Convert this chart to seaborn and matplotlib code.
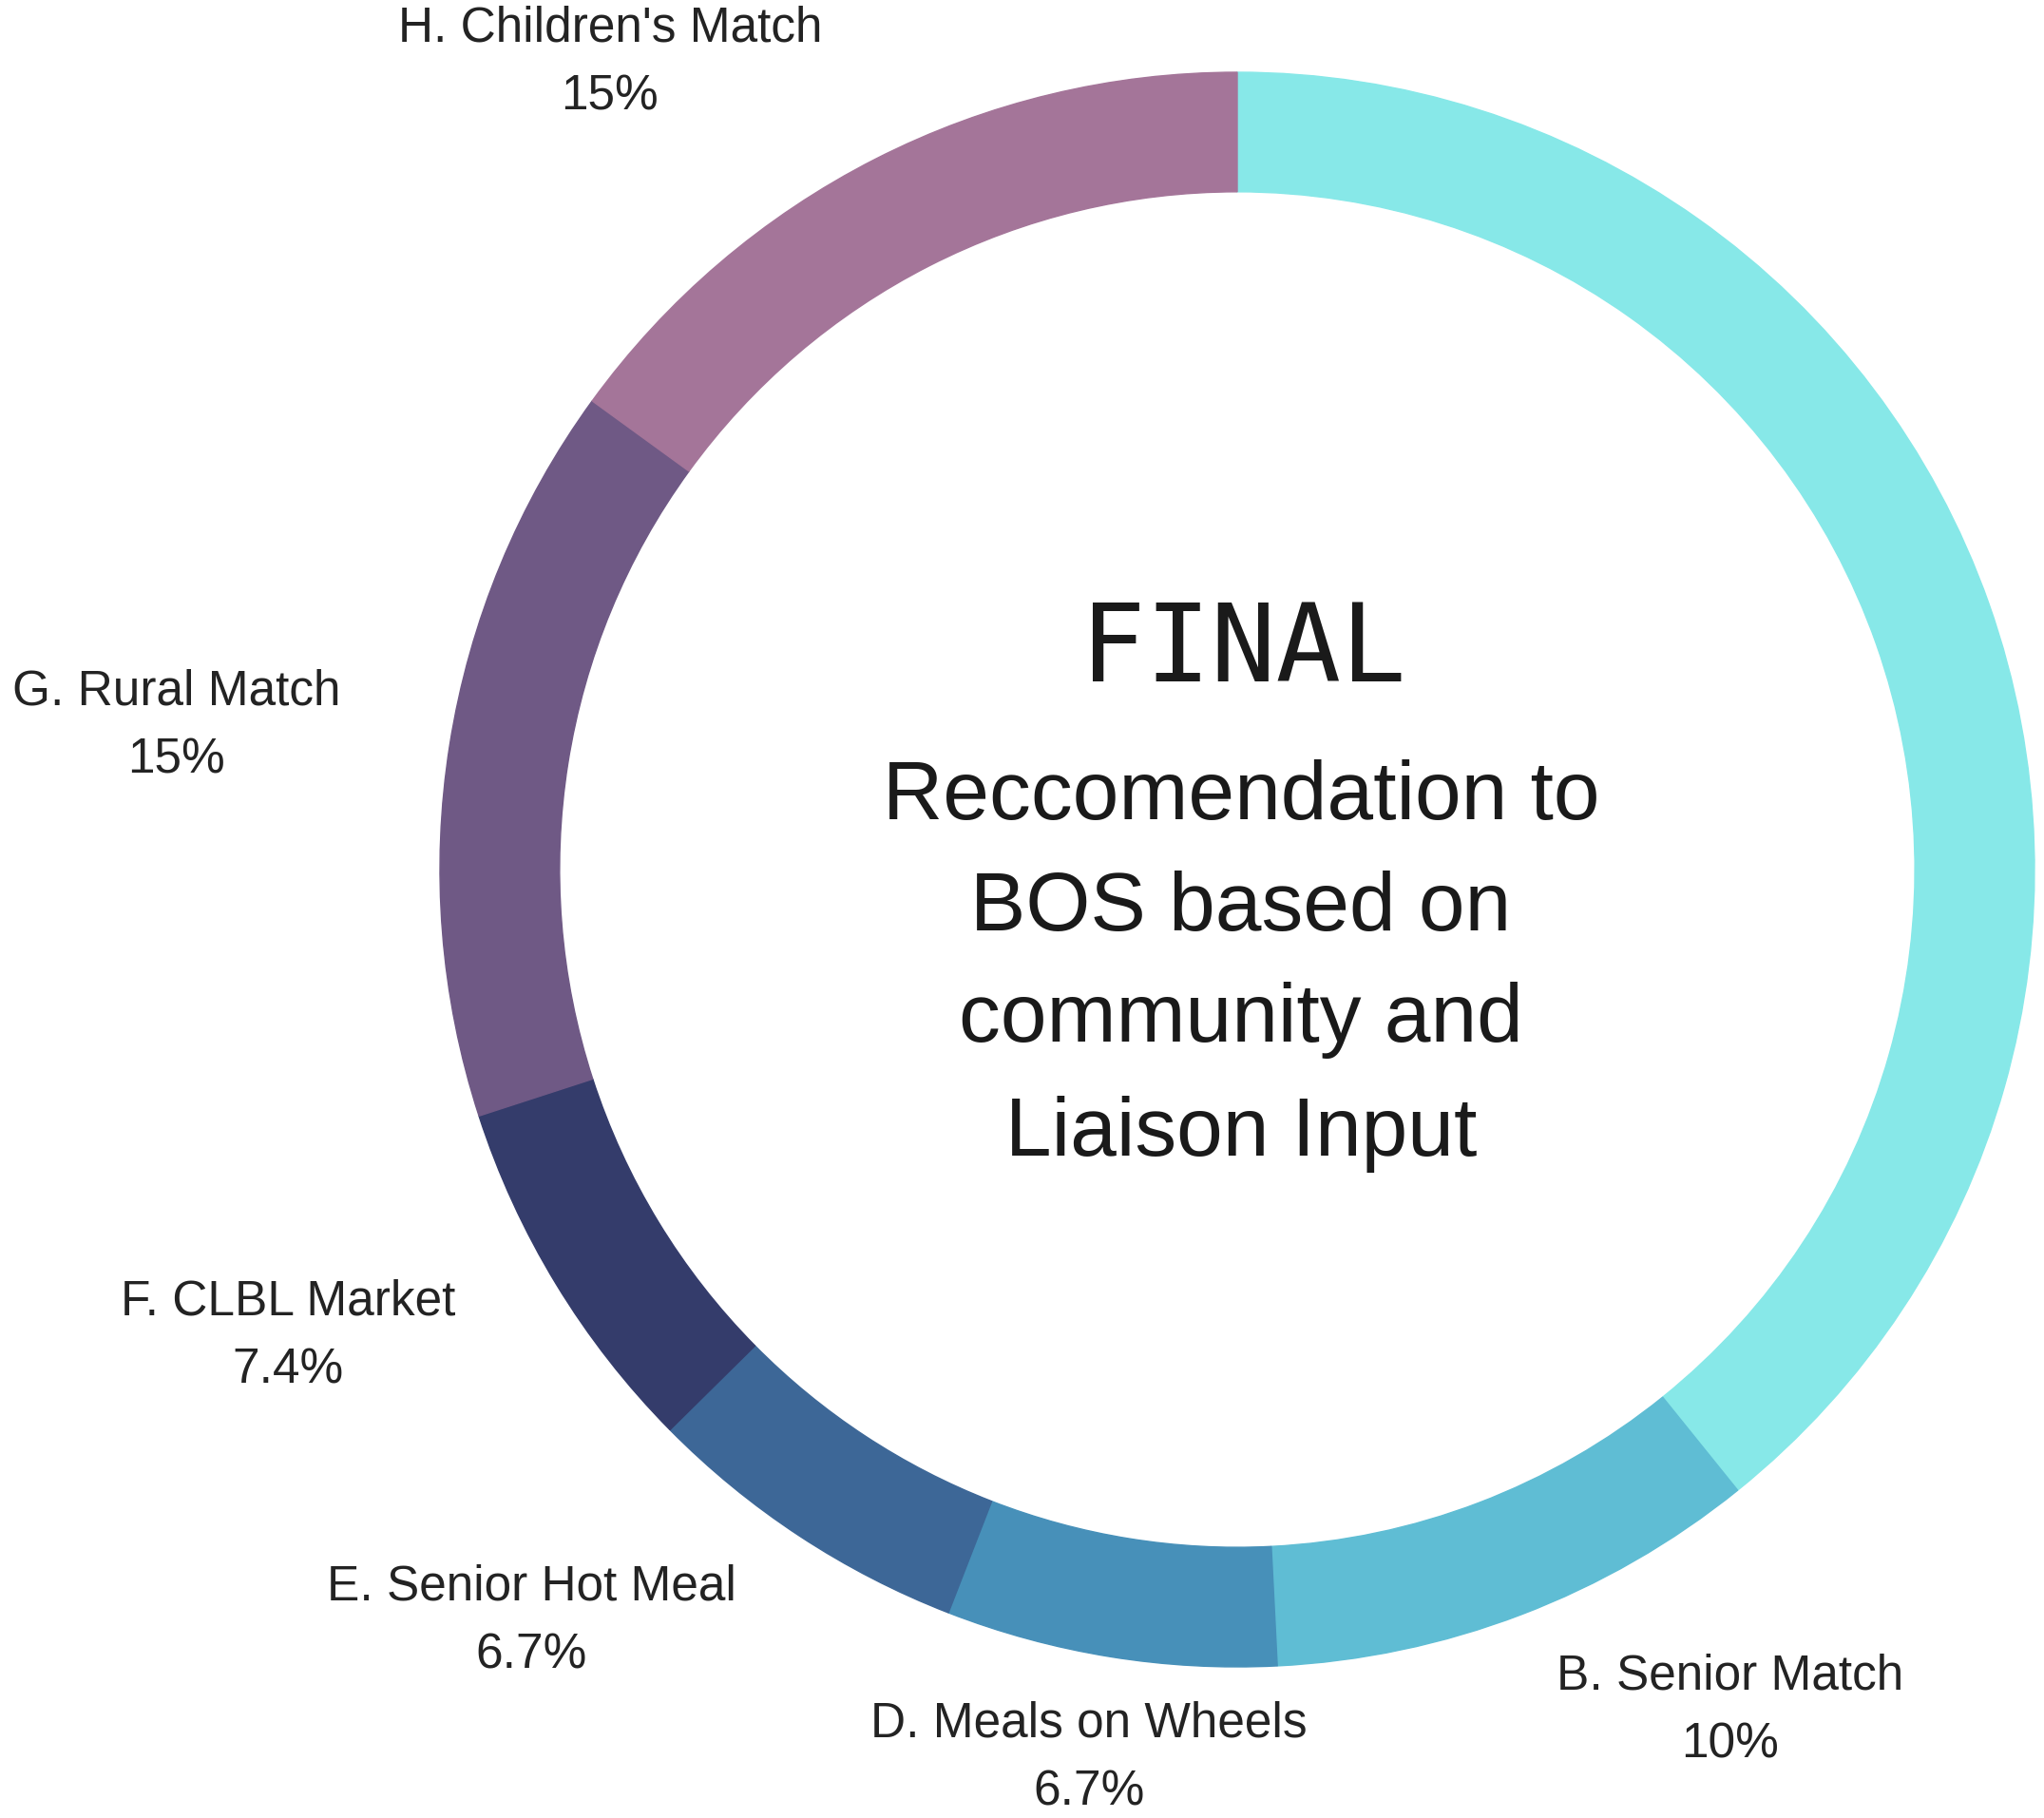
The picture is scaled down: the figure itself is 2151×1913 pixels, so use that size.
import matplotlib
matplotlib.use("Agg")
import matplotlib.pyplot as plt
import seaborn as sns

# programme shares (A has no outside label in the original)
categories = ["A", "B. Senior Match", "D. Meals on Wheels", "E. Senior Hot Meal",
              "F. CLBL Market", "G. Rural Match", "H. Children's Match"]
shares = [39.2, 10, 6.7, 6.7, 7.4, 15, 15]
show_label = [False, True, True, True, True, True, True]
colors = ["#87e8e8", "#5fbdd4", "#4790b9", "#3d6797", "#343c6b", "#6f5985", "#a47599"]

title = "FINAL"
subtitle_lines = ["Reccomendation to", "BOS based on", "community and", "Liaison Input"]

# layout in output pixels
W, H = 2151, 1913
cx, cy, R = 1302, 915, 839
label_px = [None, (1821, 1777), (1146, 1827), (559, 1683),
            (303, 1383), (186, 742), (642, 43)]
line_gap_px = 72
title_base_px = 717
subtitle_base_px = [862, 979, 1096, 1216]


def to_data(px, py):
    return (px - cx) / R, (cy - py) / R


sns.set_style("white")
plt.rcParams["font.family"] = ["Liberation Sans", "DejaVu Sans"]

fig = plt.figure(figsize=(W / 100, H / 100), dpi=100)
ax = fig.add_axes([0, 0, 1, 1])

wedges, _ = ax.pie(shares, colors=colors, startangle=90, counterclock=False,
                   radius=1, wedgeprops=dict(width=0.15, linewidth=0))
for w in wedges:
    w.set_edgecolor(w.get_facecolor())
    w.set_linewidth(1)

for name, val, show, pos in zip(categories, shares, show_label, label_px):
    if not show:
        continue
    x, y = to_data(*pos)
    ax.text(x, y, name, ha="center", va="baseline", fontsize=37, color="#232323")
    x2, y2 = to_data(pos[0], pos[1] + line_gap_px)
    ax.text(x2, y2, f"{val:.3g}%", ha="center", va="baseline", fontsize=37, color="#232323")

x, y = to_data(cx + 6, title_base_px)
ax.text(x, y, title, ha="center", va="baseline", fontsize=82,
        family=["DejaVu Sans Mono", "Liberation Mono"], color="#1a1a1a")
for line, base in zip(subtitle_lines, subtitle_base_px):
    x, y = to_data(cx + 4, base)
    ax.text(x, y, line, ha="center", va="baseline", fontsize=63, color="#1a1a1a")

ax.set_xlim(-cx / R, (W - cx) / R)
ax.set_ylim(-(H - cy) / R, cy / R)
ax.set_aspect("equal")
ax.axis("off")

fig.savefig("out.png", dpi=100, facecolor="white")
